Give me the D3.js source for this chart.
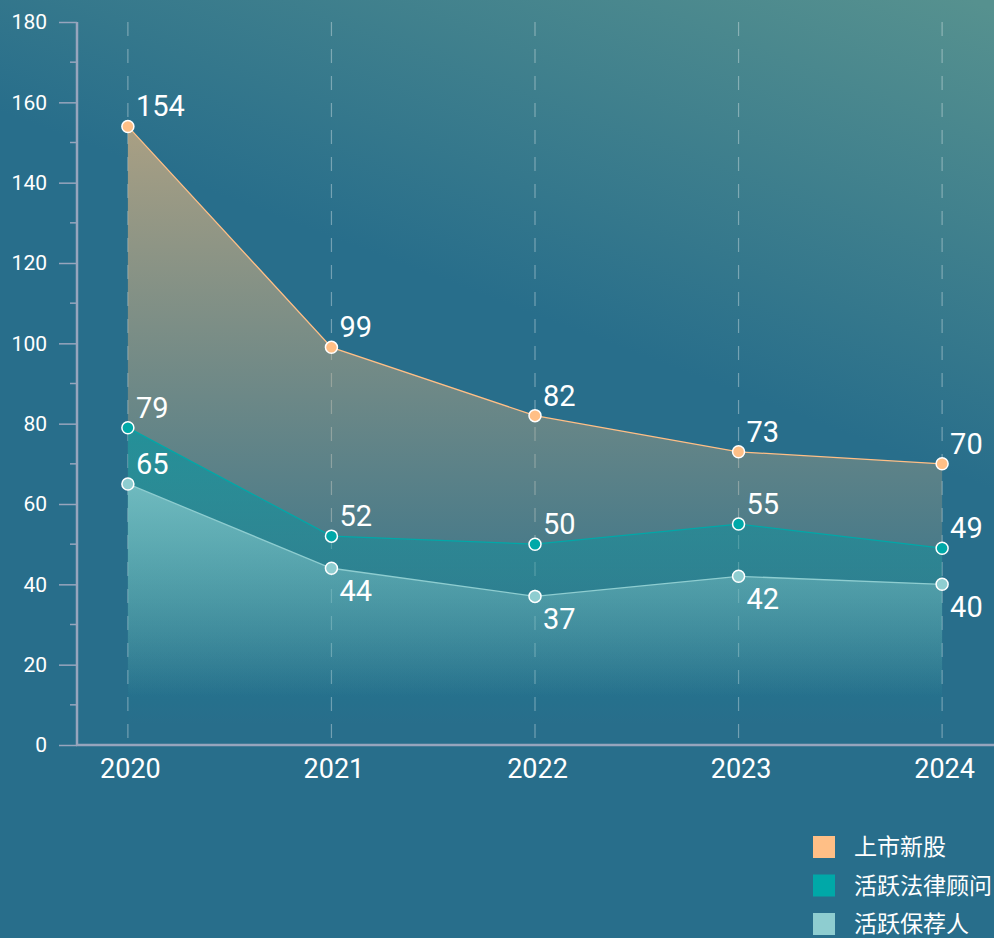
<!DOCTYPE html>
<html>
<head>
<meta charset="utf-8">
<script src="https://cdn.jsdelivr.net/npm/d3@7"></script>
<style>
  html, body { margin: 0; padding: 0; background: #286e8b; }
  svg { display: block; }
  text { font-family: Roboto, "Noto Sans CJK SC", sans-serif; fill: #fff; }
</style>
</head>
<body>
<script>
// data
var years = ["2020", "2021", "2022", "2023", "2024"];
var ipoCount = [154, 99, 82, 73, 70];          // 上市新股
var lawyerCount = [79, 52, 50, 55, 49];        // 活跃法律顾问
var sponsorCount = [65, 44, 37, 42, 40];       // 活跃保荐人
var seriesNames = ["上市新股", "活跃法律顾问", "活跃保荐人"];
var seriesColors = ["#ffbf86", "#00a8a8", "#8ecdd0"];
var yTicks = [0, 20, 40, 60, 80, 100, 120, 140, 160, 180];

var W = 994, H = 938;
var AXIS_X = 77, AXIS_Y = 745, TOP_Y = 22;

var svg = d3.select("body").append("svg")
    .attr("width", W)
    .attr("height", H);

var defs = svg.append("defs");

// background
var bg = defs.append("linearGradient")
    .attr("id", "bgGrad")
    .attr("gradientUnits", "userSpaceOnUse")
    .attr("x1", 600).attr("y1", 340)
    .attr("x2", 760).attr("y2", -80);
bg.append("stop").attr("offset", 0).attr("stop-color", "#286e8b");
bg.append("stop").attr("offset", 1).attr("stop-color", "#56918f");

svg.append("rect")
    .attr("width", W).attr("height", H)
    .attr("fill", "url(#bgGrad)");

var x = d3.scalePoint()
    .domain(years)
    .range([AXIS_X, 993])
    .padding(0.25);

var y = d3.scaleLinear()
    .domain([0, 180])
    .range([AXIS_Y, TOP_Y]);

// dashed vertical grid
svg.append("g").selectAll("line")
    .data(years)
    .enter().append("line")
    .attr("x1", function(d) { return x(d); })
    .attr("x2", function(d) { return x(d); })
    .attr("y1", TOP_Y)
    .attr("y2", AXIS_Y)
    .attr("stroke", "rgba(255,255,255,0.35)")
    .attr("stroke-width", 1.2)
    .attr("stroke-dasharray", "14,13");

var series = [
    { name: seriesNames[0], values: ipoCount, color: seriesColors[0], top: "#c0a882", topOp: 0.85, stop: 12, labelBelow: [false, false, false, false, false] },
    { name: seriesNames[1], values: lawyerCount, color: seriesColors[1], top: "#0096a2", topOp: 0.65, stop: 5, labelBelow: [false, false, false, false, false] },
    { name: seriesNames[2], values: sponsorCount, color: seriesColors[2], top: "#86c9cc", topOp: 0.75, stop: 12, labelBelow: [false, true, true, true, true] }
];

series.forEach(function(s, i) {
    var g = defs.append("linearGradient")
        .attr("id", "areaGrad" + i)
        .attr("gradientUnits", "userSpaceOnUse")
        .attr("x1", 0).attr("x2", 0)
        .attr("y1", y(d3.max(s.values)))
        .attr("y2", y(s.stop));
    g.append("stop").attr("offset", 0).attr("stop-color", s.top).attr("stop-opacity", s.topOp);
    g.append("stop").attr("offset", 1).attr("stop-color", s.top).attr("stop-opacity", 0);
});

var area = d3.area()
    .x(function(d, i) { return x(years[i]); })
    .y0(y(0))
    .y1(function(d) { return y(d); });

var line = d3.line()
    .x(function(d, i) { return x(years[i]); })
    .y(function(d) { return y(d); });

series.forEach(function(s, i) {
    svg.append("path")
        .datum(s.values)
        .attr("d", area)
        .attr("fill", "url(#areaGrad" + i + ")");
    svg.append("path")
        .datum(s.values)
        .attr("d", line)
        .attr("fill", "none")
        .attr("stroke", s.color)
        .attr("stroke-width", 1.3);
});

// axes
var yAxis = svg.append("g")
    .attr("transform", "translate(" + AXIS_X + ",0)")
    .call(d3.axisLeft(y).tickValues(yTicks).tickSize(18).tickPadding(12));
yAxis.selectAll("text").style("font-size", "21px").attr("fill", "#fff");
yAxis.selectAll(".tick line").attr("stroke", "#97a5bd").attr("stroke-width", 1.5);
yAxis.select(".domain").remove();

// minor ticks
svg.append("g").selectAll("line")
    .data(d3.range(10, 180, 20))
    .enter().append("line")
    .attr("x1", AXIS_X - 7).attr("x2", AXIS_X)
    .attr("y1", function(d) { return y(d); })
    .attr("y2", function(d) { return y(d); })
    .attr("stroke", "#97a5bd")
    .attr("stroke-width", 1.5);

svg.append("line")
    .attr("x1", AXIS_X).attr("x2", AXIS_X)
    .attr("y1", TOP_Y).attr("y2", AXIS_Y)
    .attr("stroke", "#97a5bd").attr("stroke-width", 2.5);

var xAxis = svg.append("g")
    .attr("transform", "translate(0," + AXIS_Y + ")")
    .call(d3.axisBottom(x).tickSize(0).tickPadding(14));
xAxis.select(".domain").remove();
xAxis.selectAll("text").style("font-size", "27px").attr("fill", "#fff").attr("dx", 2);

svg.append("line")
    .attr("x1", AXIS_X - 1).attr("x2", W)
    .attr("y1", AXIS_Y).attr("y2", AXIS_Y)
    .attr("stroke", "#97a5bd").attr("stroke-width", 2.5);

// points + labels
series.forEach(function(s) {
    svg.append("g").selectAll("circle")
        .data(s.values)
        .enter().append("circle")
        .attr("cx", function(d, i) { return x(years[i]); })
        .attr("cy", function(d) { return y(d); })
        .attr("r", 6)
        .attr("fill", s.color)
        .attr("stroke", "#fff")
        .attr("stroke-width", 1.5);

    svg.append("g").selectAll("text")
        .data(s.values)
        .enter().append("text")
        .attr("x", function(d, i) { return x(years[i]) + 8; })
        .attr("y", function(d, i) { return y(d) + (s.labelBelow[i] ? 33 : -10); })
        .style("font-size", "29px")
        .text(function(d) { return d; });
});

// legend
var legend = svg.append("g")
    .attr("transform", "translate(813,836)");
var item = legend.selectAll("g")
    .data(series)
    .enter().append("g")
    .attr("transform", function(d, i) { return "translate(0," + (i * 38.5) + ")"; });
item.append("rect")
    .attr("width", 22).attr("height", 22)
    .attr("fill", function(d) { return d.color; });
item.append("text")
    .attr("x", 41).attr("y", 19)
    .style("font-size", "23px")
    .style("font-family", "'Noto Sans CJK SC', sans-serif")
    .text(function(d) { return d.name; });
</script>
</body>
</html>
